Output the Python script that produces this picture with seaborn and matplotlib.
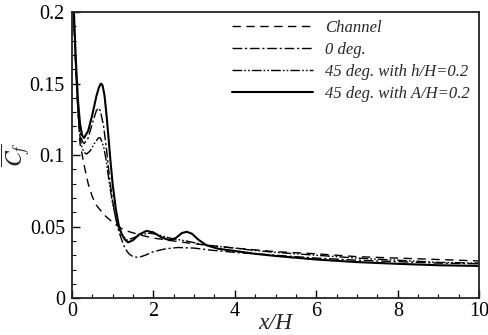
import numpy as np
import pandas as pd
import matplotlib
matplotlib.use("Agg")
import matplotlib.pyplot as plt
import seaborn as sns
from matplotlib.ticker import MultipleLocator

# ---- data ----
channel_x = [0.02, 0.05, 0.1, 0.15, 0.2, 0.3, 0.4, 0.5, 0.6, 0.8, 1.0, 1.2, 1.4, 1.7, 2.0, 2.5,
             3.0, 3.5, 4.0, 5.0, 6.0, 7.0, 8.0, 9.0, 10.0]
channel_y = [0.23, 0.19, 0.16, 0.13, 0.108, 0.093, 0.08, 0.071, 0.065, 0.058, 0.053, 0.049, 0.0465,
             0.044, 0.042, 0.040, 0.038, 0.0365, 0.035, 0.0325, 0.031, 0.029, 0.028, 0.027, 0.026]

deg0_x = [0.02, 0.05, 0.1, 0.15, 0.2, 0.25, 0.3, 0.4, 0.5, 0.6, 0.65, 0.7, 0.78, 0.85, 0.92, 1.0,
          1.08, 1.15, 1.22, 1.3, 1.4, 1.5, 1.63, 1.8, 2.0, 2.3, 2.6, 3.0, 3.4, 4.0, 5.0, 6.0, 7.0,
          8.0, 9.0, 10.0]
deg0_y = [0.23, 0.195, 0.16, 0.133, 0.117, 0.11, 0.108, 0.112, 0.122, 0.131, 0.133, 0.131, 0.12,
          0.104, 0.085, 0.068, 0.055, 0.047, 0.041, 0.035, 0.031, 0.029, 0.0284, 0.030, 0.0325,
          0.0345, 0.0354, 0.035, 0.0336, 0.032, 0.030, 0.028, 0.0265, 0.0255, 0.0245, 0.024]

h02_x = [0.02, 0.05, 0.1, 0.15, 0.2, 0.25, 0.3, 0.36, 0.45, 0.55, 0.65, 0.7, 0.78, 0.85, 0.92, 1.0,
         1.07, 1.15, 1.22, 1.34, 1.5, 1.7, 1.92, 2.1, 2.4, 2.8, 3.3, 4.0, 4.4, 5.0, 6.0, 7.0, 8.0,
         9.0, 10.0]
h02_y = [0.23, 0.195, 0.157, 0.13, 0.113, 0.105, 0.102, 0.1007, 0.103, 0.108, 0.112, 0.112, 0.106,
         0.095, 0.08, 0.066, 0.057, 0.049, 0.045, 0.0405, 0.042, 0.0445, 0.0454, 0.0445, 0.042,
         0.040, 0.037, 0.035, 0.0336, 0.032, 0.030, 0.028, 0.0265, 0.025, 0.0245]

a02_x = [0.02, 0.05, 0.1, 0.15, 0.2, 0.25, 0.3, 0.4, 0.5, 0.6, 0.66, 0.71, 0.75, 0.8, 0.85, 0.9,
         0.95, 1.0, 1.08, 1.15, 1.22, 1.3, 1.38, 1.5, 1.65, 1.83, 2.0, 2.2, 2.4, 2.55, 2.7, 2.82,
         2.95, 3.1, 3.3, 3.6, 4.0, 4.5, 5.0, 6.0, 7.0, 8.0, 9.0, 10.0]
a02_y = [0.23, 0.2, 0.165, 0.138, 0.122, 0.114, 0.112, 0.117, 0.128, 0.141, 0.147, 0.150, 0.149,
         0.142, 0.128, 0.112, 0.095, 0.08, 0.062, 0.051, 0.045, 0.041, 0.039, 0.0405, 0.0445,
         0.047, 0.046, 0.0425, 0.0405, 0.042, 0.0455, 0.0464, 0.045, 0.041, 0.037, 0.0345, 0.033,
         0.031, 0.0295, 0.027, 0.0252, 0.024, 0.023, 0.0225]

labels = ["Channel", "0 deg.", "45 deg. with h/H=0.2", "45 deg. with A/H=0.2"]
xticks = [0, 2, 4, 6, 8, 10]
yticks = [0, 0.05, 0.1, 0.15, 0.2]
ytick_labels = ["0", "0.05", "0.1", "0.15", "0.2"]

series = [(channel_x, channel_y), (deg0_x, deg0_y), (h02_x, h02_y), (a02_x, a02_y)]
frames = []
for lab, (xs, ys) in zip(labels, series):
    frames.append(pd.DataFrame({"x": xs, "y": ys, "case": lab}))
df = pd.concat(frames, ignore_index=True)

# ---- styling ----
sns.set_style("ticks")
plt.rcParams["font.family"] = ["Liberation Serif", "DejaVu Serif"]
plt.rcParams["mathtext.fontset"] = "stix"

fig = plt.figure(figsize=(4.89, 3.35), dpi=100)
ax = fig.add_axes([0.147, 0.110, 0.833, 0.854])

styles = {
    "Channel": dict(ls=(0, (6, 4)), lw=1.0),
    "0 deg.": dict(ls=(0, (7, 2, 1.5, 2)), lw=1.0),
    "45 deg. with h/H=0.2": dict(ls=(0, (7, 1.5, 1.2, 1.5, 1.2, 1.5)), lw=1.0),
    "45 deg. with A/H=0.2": dict(ls="-", lw=1.5),
}
for lab in labels:
    sub = df[df["case"] == lab]
    sns.lineplot(data=sub, x="x", y="y", ax=ax, color="black", label=lab,
                 linestyle=styles[lab]["ls"], linewidth=styles[lab]["lw"],
                 sort=False, estimator=None)

ax.set_xlim(0, 10)
ax.set_ylim(0, 0.2)
ax.set_xticks(xticks)
ax.set_yticks(yticks)
ax.set_yticklabels(ytick_labels)
ax.xaxis.set_minor_locator(MultipleLocator(0.5))
ax.yaxis.set_minor_locator(MultipleLocator(0.01))
ax.tick_params(which="both", direction="in", top=False, right=False, labelsize=14.5,
               colors="black")
ax.tick_params(which="major", length=6, width=1)
ax.tick_params(which="minor", length=3, width=0.8)
ax.tick_params(axis="y", pad=5)
ax.tick_params(axis="x", pad=3)
for s in ax.spines.values():
    s.set_linewidth(1.3)
    s.set_color("#222222")

ax.set_xlabel("x/H", fontsize=17, style="italic", labelpad=-6)
ax.set_ylabel(r"$\overline{C_f}$", fontsize=17, labelpad=-2)

leg = ax.legend(loc="upper left", bbox_to_anchor=(0.393, 0.972), frameon=False,
                borderpad=0, borderaxespad=0, handlelength=4.85, handletextpad=0.72,
                labelspacing=0.36,
                prop={"family": "Liberation Serif", "style": "italic", "size": 12})

fig.savefig("out.png", dpi=100)
